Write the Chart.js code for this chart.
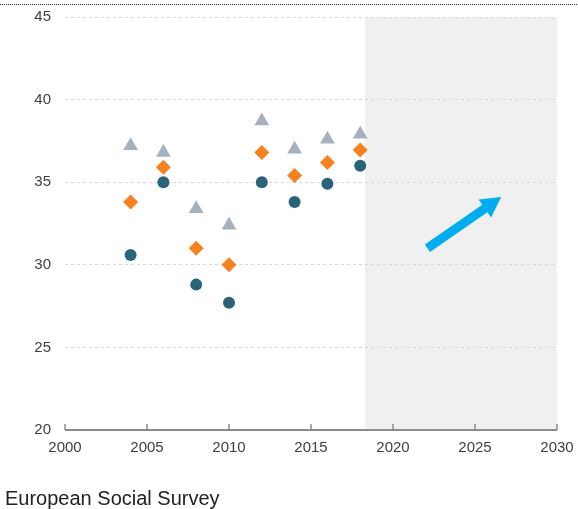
<!DOCTYPE html>
<html>
<head>
<meta charset="utf-8">
<script src="https://cdn.jsdelivr.net/npm/chart.js@4"></script>
<style>
  html, body { margin: 0; padding: 0; background: #fff; }
  #wrap { position: relative; width: 578px; height: 509px; }
</style>
</head>
<body>
<div id="wrap"><canvas id="c" width="578" height="509"></canvas></div>
<script>
// survey years
const years = [2004, 2006, 2008, 2010, 2012, 2014, 2016, 2018];
// three series
const seriesTriangle = [37.2, 36.8, 33.4, 32.4, 38.7, 37.0, 37.6, 37.9];
const seriesDiamond = [33.8, 35.9, 31.0, 30.0, 36.8, 35.4, 36.2, 36.95];
const seriesCircle = [30.6, 35.0, 28.8, 27.7, 35.0, 33.8, 34.9, 36.0];
const xTicks = [2000, 2005, 2010, 2015, 2020, 2025, 2030];
const yTicks = [20, 25, 30, 35, 40, 45];
const forecastStart = 2018.3; // shaded projection area
const arrowFrom = [2022.1, 31.0];
const arrowTo = [2026.6, 34.1];
const sourceText = 'European Social Survey';

const FONT = '"Liberation Sans", Arial, sans-serif';

const pts = (ys) => years.map((y, i) => ({ x: y, y: ys[i] }));

// background shading, frame lines, arrow and source note
const decor = {
  id: 'decor',
  beforeDraw(chart) {
    const { ctx, chartArea: a, scales: { x } } = chart;
    ctx.save();
    const x0 = x.getPixelForValue(forecastStart);
    ctx.fillStyle = '#f0f0f0';
    ctx.fillRect(x0, a.top, a.right - x0, a.bottom - a.top);
    // dotted rule at the very top
    ctx.strokeStyle = '#333';
    ctx.lineWidth = 1;
    ctx.setLineDash([1, 1]);
    ctx.beginPath();
    ctx.moveTo(0, 4.5);
    ctx.lineTo(chart.width, 4.5);
    ctx.stroke();
    ctx.restore();
  },
  afterDatasetsDraw(chart) {
    const { ctx, chartArea: a, scales: { x, y } } = chart;
    ctx.save();
    // x axis line with inward ticks
    ctx.strokeStyle = '#8c8c8c';
    ctx.lineWidth = 2;
    ctx.beginPath();
    ctx.moveTo(a.left, a.bottom);
    ctx.lineTo(a.right, a.bottom);
    ctx.stroke();
    ctx.lineWidth = 1.5;
    xTicks.forEach(t => {
      const px = Math.round(x.getPixelForValue(t));
      ctx.beginPath();
      ctx.moveTo(px, a.bottom);
      ctx.lineTo(px, a.bottom - 6);
      ctx.stroke();
    });
    // arrow
    const sx = x.getPixelForValue(arrowFrom[0]), sy = y.getPixelForValue(arrowFrom[1]);
    const ex = x.getPixelForValue(arrowTo[0]), ey = y.getPixelForValue(arrowTo[1]);
    const ang = Math.atan2(ey - sy, ex - sx);
    const len = Math.hypot(ex - sx, ey - sy);
    const hw = 4.5, headW = 11, headL = 20;
    ctx.translate(sx, sy);
    ctx.rotate(ang);
    ctx.fillStyle = '#00aeef';
    ctx.beginPath();
    ctx.moveTo(0, -hw);
    ctx.lineTo(len - headL, -hw);
    ctx.lineTo(len - headL, -headW);
    ctx.lineTo(len, 0);
    ctx.lineTo(len - headL, headW);
    ctx.lineTo(len - headL, hw);
    ctx.lineTo(0, hw);
    ctx.closePath();
    ctx.fill();
    ctx.restore();

    ctx.save();
    ctx.fillStyle = '#222';
    ctx.font = '20px ' + FONT;
    ctx.textBaseline = 'alphabetic';
    ctx.fillText(sourceText, 5, 505);
    ctx.restore();
  }
};

new Chart(document.getElementById('c'), {
  type: 'scatter',
  data: {
    datasets: [
      { label: 'circle', data: pts(seriesCircle), pointStyle: 'circle', pointRadius: 6,
        backgroundColor: '#2a6479', borderColor: '#2a6479', borderWidth: 0 },
      { label: 'diamond', data: pts(seriesDiamond), pointStyle: 'rectRot', pointRadius: 7.5,
        backgroundColor: '#f5821f', borderColor: '#f5821f', borderWidth: 0 },
      { label: 'triangle', data: pts(seriesTriangle), pointStyle: 'triangle', pointRadius: 8.5,
        backgroundColor: '#a7b0bd', borderColor: '#a7b0bd', borderWidth: 0 }
    ]
  },
  options: {
    responsive: false,
    animation: false,
    events: [],
    layout: { padding: { top: 17, right: 21, left: 0, bottom: 0 } },
    plugins: { legend: { display: false }, tooltip: { enabled: false } },
    scales: {
      x: {
        type: 'linear', min: 2000, max: 2030,
        afterBuildTicks: s => { s.ticks = xTicks.map(v => ({ value: v })); },
        afterFit: s => { s.height = 79; s.paddingLeft = 0; s.paddingRight = 0; },
        grid: { display: false, drawTicks: false },
        border: { display: false },
        ticks: { color: '#404040', font: { family: FONT, size: 15 }, padding: 9, maxRotation: 0,
          callback: v => String(v) }
      },
      y: {
        min: 20, max: 45,
        afterBuildTicks: s => { s.ticks = yTicks.map(v => ({ value: v })); },
        afterFit: s => { s.width = 65; s.paddingTop = 0; s.paddingBottom = 0; },
        grid: { color: '#d9d9d9', lineWidth: 1, drawTicks: false },
        border: { display: false, dash: [3, 3] },
        ticks: { color: '#404040', font: { family: FONT, size: 15 }, padding: 14 }
      }
    }
  },
  plugins: [decor]
});
</script>
</body>
</html>
